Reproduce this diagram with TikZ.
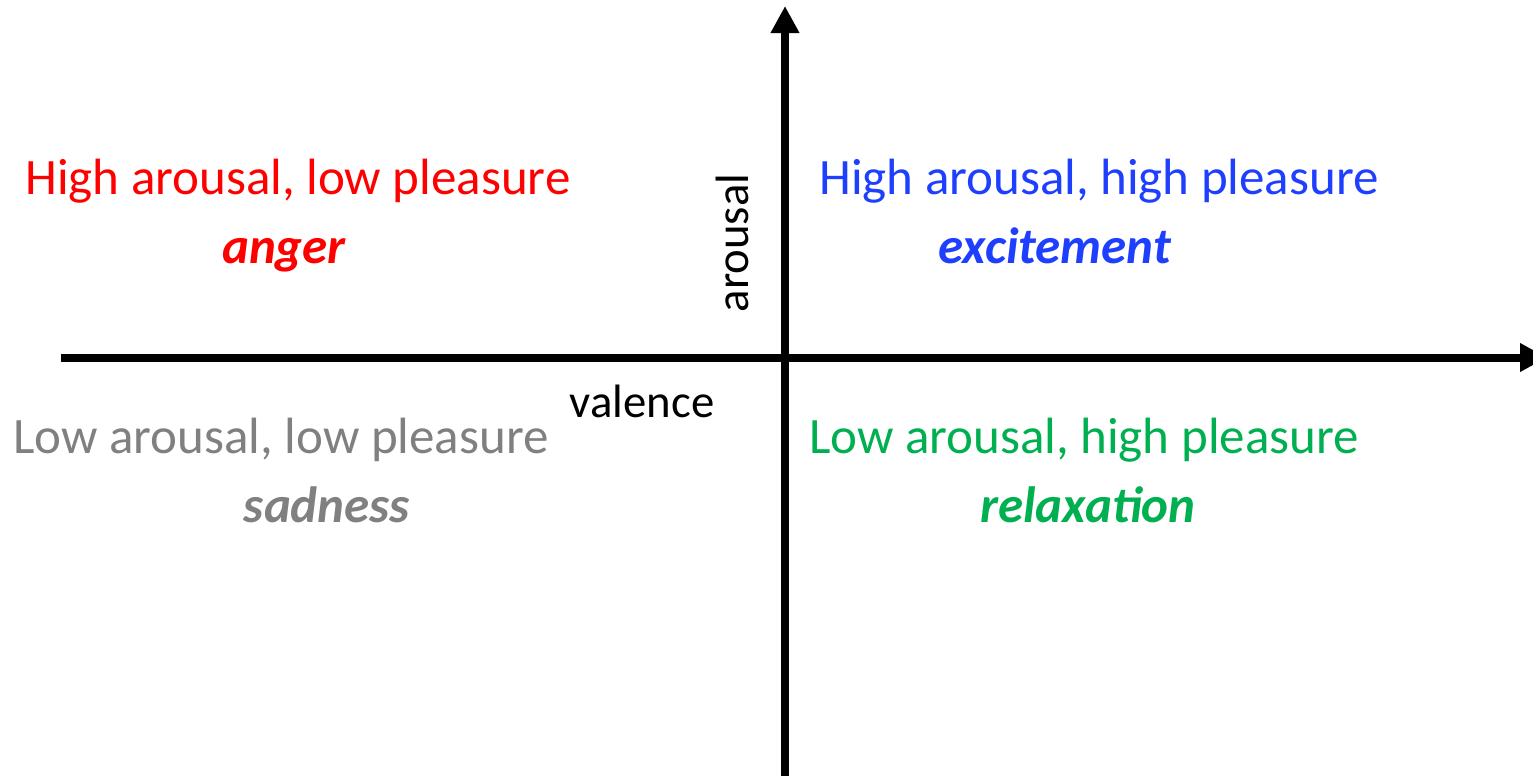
\documentclass[tikz,border=0pt]{standalone}
\usepackage{fontspec}
\setmainfont{Carlito}
\definecolor{QuadRed}{HTML}{FF0000}
\definecolor{QuadBlue}{HTML}{1F3FFF}
\definecolor{QuadGreen}{HTML}{00B050}
\definecolor{QuadGray}{HTML}{808080}
\usetikzlibrary{arrows.meta}

\begin{document}
\begin{tikzpicture}[x=0.01cm, y=-0.01cm, >={Triangle[length=0.27cm, width=0.27cm]},
  quadtext/.style={anchor=base, inner sep=0pt, font=\fontsize{14.5}{17}\selectfont},
  emotion/.style={quadtext, font=\fontsize{14.5}{17}\selectfont\bfseries\itshape},
  axislabel/.style={anchor=base, inner sep=0pt, font=\fontsize{13.3}{16}\selectfont}]
  \useasboundingbox (0,0) rectangle (1533,775);
  % Axes (pixel grid, origin top left)
  \coordinate (vstart) at (785,785);
  \coordinate (vend) at (785,6);
  \coordinate (hstart) at (61,357.5);
  \coordinate (hend) at (1547,357.5);
  \draw[->, line width=0.08cm] (vstart) -- (vend);
  \draw[->, line width=0.08cm] (hstart) -- (hend);
  \node[axislabel, rotate=90] (arousal) at (748,243) {arousal};
  \node[axislabel] (valence) at (642,417) {valence};
  % Top left quadrant
  \node[quadtext, text=QuadRed] (hilo) at (298,194) {High arousal, low pleasure};
  \node[emotion, text=QuadRed] (anger) at (284,263) {anger};
  % Top right quadrant
  \node[quadtext, text=QuadBlue] (hihi) at (1099,194) {High arousal, high pleasure};
  \node[emotion, text=QuadBlue] (excite) at (1055,263) {excitement};
  % Bottom left quadrant
  \node[quadtext, text=QuadGray] (lolo) at (281,453) {Low arousal, low pleasure};
  \node[emotion, text=QuadGray] (sad) at (327,522) {sadness};
  % Bottom right quadrant
  \node[quadtext, text=QuadGreen] (lohi) at (1084,453) {Low arousal, high pleasure};
  \node[emotion, text=QuadGreen] (relax) at (1088,522) {relaxation};
\end{tikzpicture}
\end{document}
